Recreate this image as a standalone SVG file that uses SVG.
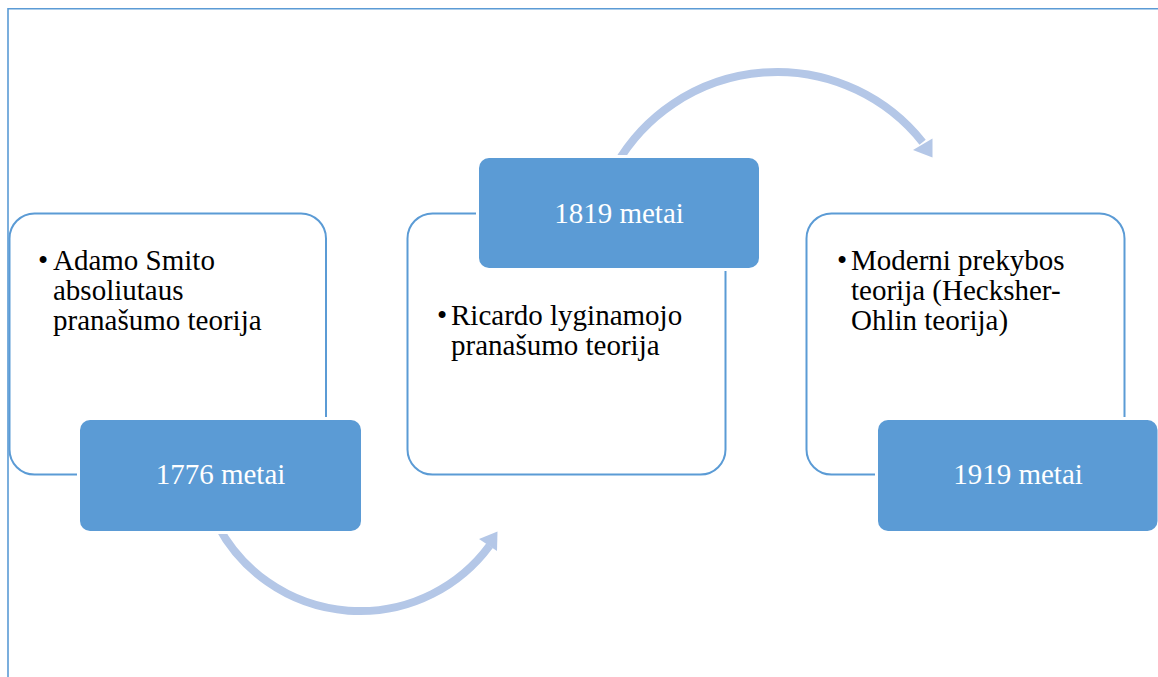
<svg xmlns="http://www.w3.org/2000/svg" width="1158" height="677" viewBox="0 0 1158 677">
<style>
.frame{fill:none;stroke:#5b9bd5;stroke-width:1.6}
.outline{fill:#ffffff;stroke:#5b9bd5;stroke-width:2}
.year{fill:#5b9bd5;stroke:#ffffff;stroke-width:6;paint-order:stroke}
.arc{fill:none;stroke:#b4c7e7;stroke-width:8}
.head{fill:#b4c7e7}
.ttl{font-family:"Liberation Serif","Times New Roman",serif;font-size:29px;fill:#000000}
.ytxt{font-family:"Liberation Serif","Times New Roman",serif;font-size:29px;fill:#ffffff;text-anchor:middle}
</style>
<rect width="1158" height="677" fill="#ffffff"/>
<path class="frame" d="M8 677 V8.8 H1158"/>
<g id="connectors">
<path class="arc" d="M217.8 525.6 A161 161 0 0 0 489.6 545.6"/>
<polygon class="head" points="479,539 497.5,531.5 497,551"/>
<path class="arc" d="M616 165 A186 186 0 0 1 922.6 142.2"/>
<polygon class="head" points="913,150 932.5,138.5 932.5,157.5"/>
</g>
<g id="node1">
<rect class="outline" x="9.5" y="213.5" width="316.5" height="261" rx="25"/>
<text class="ttl" font-family="Liberation Serif, serif"><tspan x="38" y="270">•</tspan><tspan x="53" y="270">Adamo Smito</tspan><tspan x="53" y="300">absoliutaus</tspan><tspan x="53" y="329.5">pranašumo teorija</tspan></text>
<rect class="year" x="80" y="420" width="281" height="111" rx="10"/>
<text class="ytxt" x="220.5" y="484">1776 metai</text>
</g>
<g id="node2">
<rect class="outline" x="407.5" y="213.5" width="318" height="261" rx="25"/>
<rect class="year" x="479" y="158" width="280" height="110" rx="10"/>
<text class="ytxt" x="619" y="223">1819 metai</text>
<text class="ttl" font-family="Liberation Serif, serif"><tspan x="437" y="325">•</tspan><tspan x="451" y="325">Ricardo lyginamojo</tspan><tspan x="451" y="354.5">pranašumo teorija</tspan></text>
</g>
<g id="node3">
<rect class="outline" x="806.5" y="213.5" width="318" height="261" rx="25"/>
<text class="ttl" font-family="Liberation Serif, serif"><tspan x="837" y="270">•</tspan><tspan x="851" y="270">Moderni prekybos</tspan><tspan x="851" y="300">teorija (Hecksher-</tspan><tspan x="851" y="329.5">Ohlin teorija)</tspan></text>
<rect class="year" x="878" y="420" width="279.5" height="111" rx="10"/>
<text class="ytxt" x="1018" y="484">1919 metai</text>
</g>
</svg>
